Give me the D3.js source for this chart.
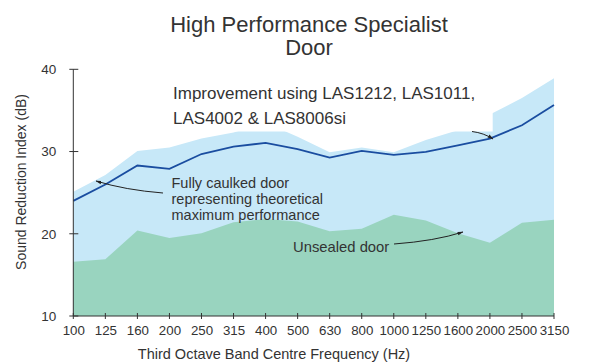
<!DOCTYPE html>
<html><head><meta charset="utf-8">
<script src="https://cdn.jsdelivr.net/npm/d3@7"></script>
<style>
body{margin:0;background:#fff;}
text{font-family:"Liberation Sans",Arial,Helvetica,sans-serif;fill:#333;}
</style></head>
<body>
<svg id="c" width="602" height="364"></svg>
<script>
const categories = ["100","125","160","200","250","315","400","500","630","800","1000","1250","1600","2000","2500","3150"];
const improvedValues = [25.1,27.15,30.07,30.5,31.6,32.3,33.5,31.8,29.9,30.5,29.9,31.4,32.6,34.5,36.5,38.9];
const caulkedValues  = [24.0,26.0,28.3,27.9,29.7,30.6,31.05,30.3,29.26,30.07,29.6,29.95,30.75,31.57,33.2,35.67];
const unsealedValues = [16.6,16.9,20.4,19.5,20.05,21.4,21.8,21.5,20.3,20.6,22.3,21.6,20.05,18.9,21.35,21.7];
const yTicks = [10,20,30,40];

const svg = d3.select("#c");
const x = d3.scalePoint().domain(categories).range([73.3,554]);
const y = d3.scaleLinear().domain([10,40]).range([316,69.3]);

const area = vals => d3.area().x((d,i)=>x(categories[i])).y0(y(10)).y1(d=>y(d))(vals);

svg.append("path").attr("d",area(improvedValues)).attr("fill","#c7e8f8");
svg.append("path").attr("d",area(unsealedValues)).attr("fill","#99d4bf");
// white label background clipping the improvement area
svg.append("rect").attr("x",160).attr("y",72).attr("width",492.7-160).attr("height",131.5-72).attr("fill","#fff");

svg.append("path")
  .attr("d",d3.line().x((d,i)=>x(categories[i])).y(d=>y(d))(caulkedValues))
  .attr("fill","none").attr("stroke","#1a4da0").attr("stroke-width",1.8);

// axes
const axisColor="#333";
const yAxis = svg.append("g").attr("transform","translate(73.3,0)")
  .call(d3.axisLeft(y).tickValues(yTicks).tickSize(0).tickPadding(17).tickFormat(d3.format("d")));
yAxis.select(".domain").attr("stroke",axisColor);
yAxis.selectAll("text").attr("font-size",13.5).attr("fill","#333");
yAxis.selectAll(".tk").data(yTicks).enter().append("line")
  .attr("x1",-4).attr("x2",5).attr("y1",d=>y(d)).attr("y2",d=>y(d)).attr("stroke",axisColor);
yAxis.select(".domain").attr("d","M0,"+y(40)+"V"+y(10));

const xAxis = svg.append("g").attr("transform","translate(0,316)")
  .call(d3.axisBottom(x).tickSize(0).tickPadding(10));
xAxis.select(".domain").attr("stroke",axisColor).attr("d","M"+x(categories[0])+",0H"+x(categories[categories.length-1]));
xAxis.selectAll("text").attr("font-size",13.3).attr("fill","#333");
xAxis.selectAll(".tk").data(categories).enter().append("line")
  .attr("x1",d=>x(d)).attr("x2",d=>x(d)).attr("y1",-3).attr("y2",3).attr("stroke",axisColor);

// titles
svg.append("text").attr("x",309).attr("y",32).attr("text-anchor","middle").attr("font-size",22).text("High Performance Specialist");
svg.append("text").attr("x",309).attr("y",55).attr("text-anchor","middle").attr("font-size",22).text("Door");
svg.append("text").attr("x",274).attr("y",359).attr("text-anchor","middle").attr("font-size",14.5).text("Third Octave Band Centre Frequency (Hz)");
svg.append("text").attr("transform","translate(26,182) rotate(-90)").attr("text-anchor","middle").attr("font-size",14).text("Sound Reduction Index (dB)");

// annotations
const ann = svg.append("g");
ann.append("text").attr("x",173).attr("y",99).attr("font-size",17).text("Improvement using LAS1212, LAS1011,");
ann.append("text").attr("x",173).attr("y",124).attr("font-size",17).text("LAS4002 & LAS8006si");
["Fully caulked door","representing theoretical","maximum performance"].forEach((t,i)=>
  ann.append("text").attr("x",171.5).attr("y",188+i*16).attr("font-size",14.5).text(t));
ann.append("text").attr("x",293).attr("y",251.5).attr("font-size",14.8).text("Unsealed door");

svg.append("defs").append("marker").attr("id","ah").attr("viewBox","0 0 10 10").attr("refX",9).attr("refY",5)
  .attr("markerWidth",6).attr("markerHeight",6).attr("orient","auto-start-reverse")
  .append("path").attr("d","M0,2L10,5L0,8z").attr("fill","#222");
const arrow = (d)=>svg.append("path").attr("d",d).attr("fill","none").attr("stroke","#222").attr("stroke-width",1).attr("marker-end","url(#ah)");
arrow("M163,193 Q125,190 96,181");
arrow("M394,244 Q435,241 463,232");
arrow("M472,131.5 Q484,133 493,139");
</script>
</body></html>
